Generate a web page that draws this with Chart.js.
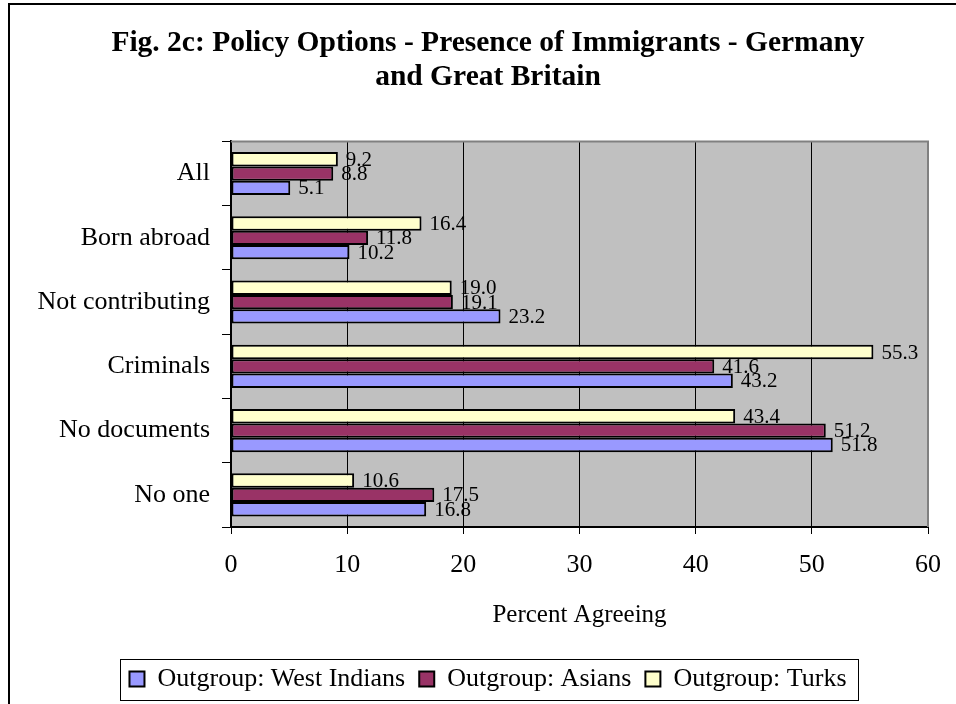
<!DOCTYPE html>
<html>
<head>
<meta charset="utf-8">
<title>Fig. 2c</title>
<script src="https://cdn.jsdelivr.net/npm/chart.js@4.4.0/dist/chart.umd.min.js"></script>
<style>
  html, body { margin: 0; padding: 0; background: #fff; }
  #wrap { width: 956px; height: 704px; }
</style>
</head>
<body>
<div id="wrap"><canvas id="policyChart" width="956" height="704"></canvas></div>
<script>
// data
const categories = ['All', 'Born abroad', 'Not contributing', 'Criminals', 'No documents', 'No one'];
const turks = [9.2, 16.4, 19.0, 55.3, 43.4, 10.6];
const asians = [8.8, 11.8, 19.1, 41.6, 51.2, 17.5];
const westIndians = [5.1, 10.2, 23.2, 43.2, 51.8, 16.8];
const xTicks = [0, 10, 20, 30, 40, 50, 60];

const serif = "'Liberation Serif', 'Times New Roman', serif";

// white page, grey plot area, grey top/right frame, outer border
const chartFrame = {
  id: 'chartFrame',
  beforeDraw(chart) {
    const { ctx, chartArea: a } = chart;
    ctx.save();
    ctx.fillStyle = '#ffffff';
    ctx.fillRect(0, 0, chart.width, chart.height);
    ctx.fillStyle = '#c0c0c0';
    ctx.fillRect(a.left, a.top, a.right - a.left, a.bottom - a.top);
    ctx.restore();
  },
  beforeDatasetsDraw(chart) {
    const { ctx, chartArea: a } = chart;
    ctx.save();
    ctx.strokeStyle = '#808080';
    ctx.lineWidth = 2;
    ctx.beginPath();
    ctx.moveTo(a.left, a.top);
    ctx.lineTo(a.right, a.top);
    ctx.lineTo(a.right, a.bottom);
    ctx.stroke();
    ctx.restore();
  },
  afterDraw(chart) {
    const { ctx } = chart;
    ctx.save();
    ctx.strokeStyle = '#000';
    ctx.lineWidth = 2;
    ctx.beginPath();
    ctx.moveTo(9, chart.height);
    ctx.lineTo(9, 4);
    ctx.lineTo(chart.width, 4);
    ctx.stroke();

    // box round the legend
    const boxes = chart.legend.legendHitBoxes;
    if (boxes && boxes.length) {
      const first = boxes[0], last = boxes[boxes.length - 1];
      const left = first.left - 9;
      const right = last.left + last.width + 12;
      const cy = first.top + first.height / 2;
      ctx.lineWidth = 1;
      ctx.strokeStyle = '#000';
      ctx.strokeRect(Math.round(left) + 0.5, Math.round(cy - 20.5) + 0.5, Math.round(right - left), 41);
    }
    ctx.restore();
  }
};

// value next to each bar
const barValues = {
  id: 'barValues',
  afterDatasetsDraw(chart) {
    const { ctx } = chart;
    ctx.save();
    ctx.font = '21px ' + serif;
    ctx.fillStyle = '#000';
    ctx.textAlign = 'left';
    ctx.textBaseline = 'middle';
    chart.data.datasets.forEach((ds, i) => {
      chart.getDatasetMeta(i).data.forEach((bar, j) => {
        ctx.fillText(ds.data[j].toFixed(1), bar.x + 8, bar.y + 1);
      });
    });
    ctx.restore();
  }
};

const ctx = document.getElementById('policyChart').getContext('2d');
const policyChart = new Chart(ctx, {
  type: 'bar',
  data: {
    labels: categories,
    datasets: [
      { label: 'Outgroup: Turks', data: turks, backgroundColor: '#ffffcc' },
      { label: 'Outgroup: Asians', data: asians, backgroundColor: '#993366' },
      { label: 'Outgroup: West Indians', data: westIndians, backgroundColor: '#9999ff' }
    ]
  },
  options: {
    indexAxis: 'y',
    responsive: false,
    animation: false,
    devicePixelRatio: 1,
    layout: { padding: { left: 20, right: 0, top: 0, bottom: 2 } },
    datasets: {
      bar: {
        borderColor: '#000',
        borderWidth: 2,
        borderSkipped: false,
        categoryPercentage: 0.67,
        barPercentage: 1
      }
    },
    scales: {
      x: {
        min: xTicks[0],
        max: xTicks[xTicks.length - 1],
        afterBuildTicks: (scale) => { scale.ticks = xTicks.map(v => ({ value: v })); },
        afterFit: (scale) => { scale.height = 125; scale.paddingRight = 28; },
        grid: { color: '#000', lineWidth: 1, tickLength: 7 },
        border: { color: '#000', width: 2 },
        ticks: { color: '#000', padding: 16, font: { family: serif, size: 26 } },
        title: {
          display: true,
          text: 'Percent Agreeing',
          color: '#000',
          font: { family: serif, size: 25, lineHeight: 1.2 },
          padding: { top: 0, bottom: 22 }
        }
      },
      y: {
        afterFit: (scale) => { scale.width = 211; },
        grid: { drawOnChartArea: false, drawTicks: true, tickLength: 9, color: '#000', offset: true },
        border: { color: '#000', width: 2 },
        ticks: { color: '#000', padding: 12, font: { family: serif, size: 26 } }
      }
    },
    plugins: {
      title: {
        display: true,
        text: ['Fig. 2c: Policy Options - Presence of Immigrants - Germany', 'and Great Britain'],
        color: '#000',
        font: { family: serif, size: 29.5, weight: 'bold', lineHeight: 1.16 },
        padding: { top: 26, bottom: 47 }
      },
      legend: {
        position: 'bottom',
        reverse: true,
        labels: {
          color: '#000',
          boxWidth: 15,
          boxHeight: 15,
          padding: 14,
          font: { family: serif, size: 26 }
        }
      },
      tooltip: { enabled: false }
    }
  },
  plugins: [chartFrame, barValues]
});
</script>
</body>
</html>
